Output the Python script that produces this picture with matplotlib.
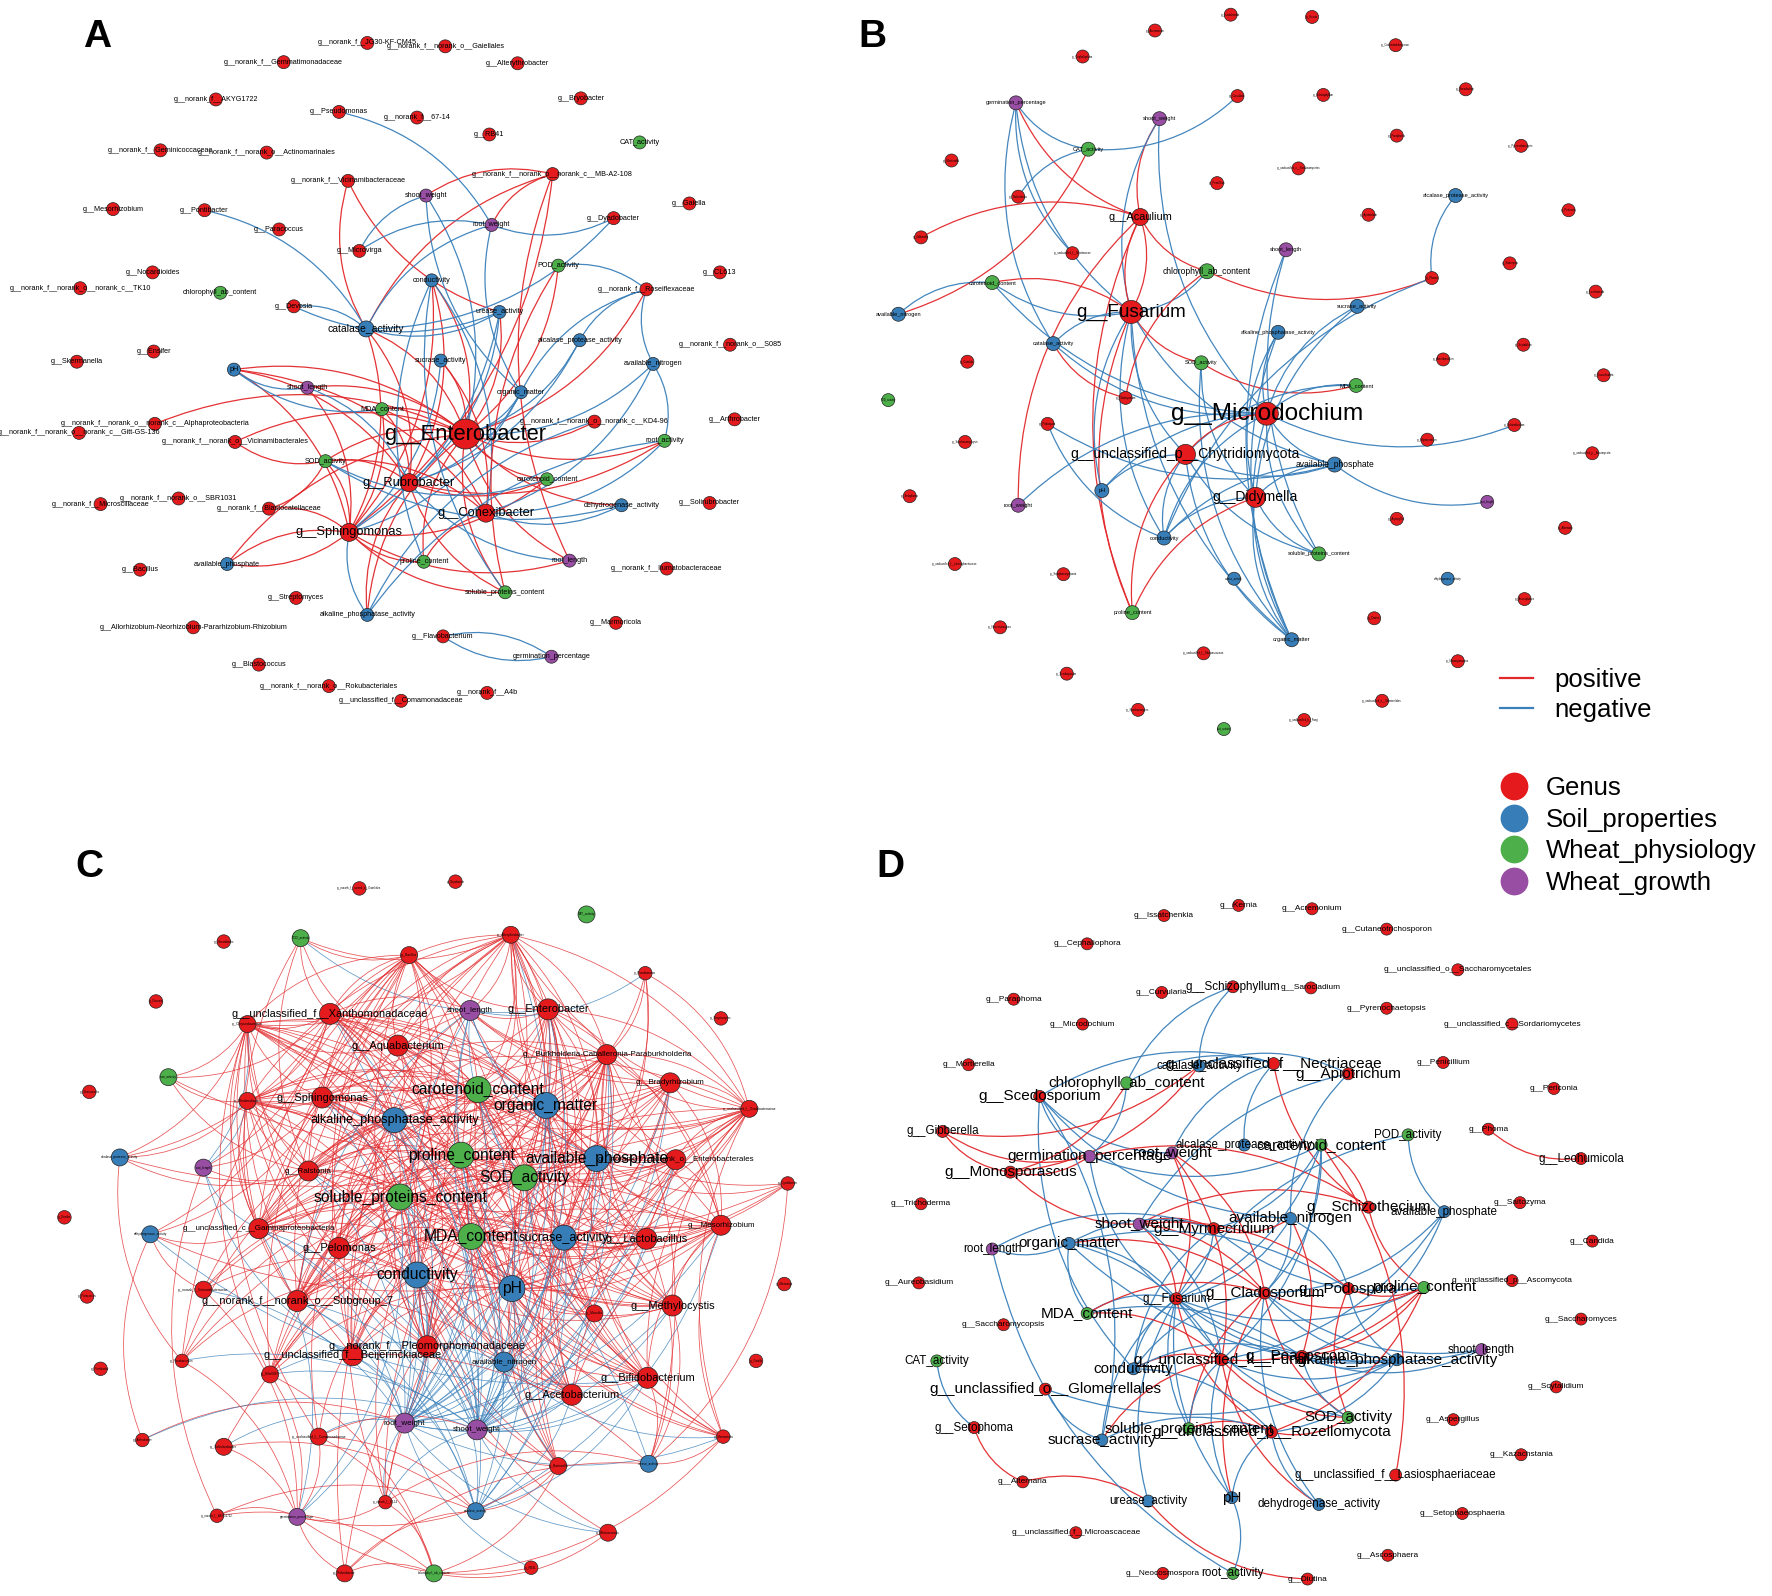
import matplotlib
matplotlib.use("Agg")
import matplotlib.pyplot as plt
from matplotlib import font_manager
from matplotlib.path import Path
from matplotlib.patches import PathPatch
from matplotlib.lines import Line2D

# ---------------- panel A : bacteria ----------------
a_names = [
    "g__norank_f__JG30-KF-CM45", "g__norank_f__norank_o__Gaiellales", "g__norank_f__Gemmatimonadaceae",
    "g__Alterythrobacter", "g__norank_f__AKYG1722", "g__Bryobacter", "g__Pseudomonas", "g__norank_f__67-14",
    "g__RB41", "CAT_activity", "g__norank_f__Geminicoccaceae", "g__norank_f__norank_o__Actinomarinales",
    "g__norank_f__norank_o__norank_c__MB-A2-108", "g__norank_f__Vicinamibacteraceae", "shoot_weight",
    "g__Gaiella", "g__Mesorhizobium", "g__Pontibacter", "root_weight", "g__Dyadobacter", "g__Paracoccus",
    "g__Microvirga", "POD_activity", "g__Nocardioides", "g__CL613", "g__norank_f__norank_o__norank_c__TK10",
    "conductivity", "g__norank_f__Roseiflexaceae", "chlorophyll_ab_content", "g__Devosia", "urease_activity",
    "catalase_activity", "alcalase_protease_activity", "g__norank_f__norank_o__S085", "g__Ensifer",
    "g__Skermanella", "sucrase_activity", "available_nitrogen", "pH", "shoot_length", "organic_matter",
    "MDA_content", "g__norank_f__norank_o__norank_c__Alphaproteobacteria",
    "g__norank_f__norank_o__norank_c__Gitt-GS-136", "g__norank_f__norank_o__Vicinamibacterales",
    "g__Enterobacter", "g__norank_f__norank_o__norank_c__KD4-96", "g__Arthrobacter", "root_activity",
    "SOD_activity", "g__Rubrobacter", "carotenoid_content", "g__norank_f__Microscillaceae",
    "g__norank_f__norank_o__SBR1031", "g__norank_f__Blastocatellaceae", "dehydrogenase_activity",
    "g__Solirubrobacter", "g__Conexibacter", "g__Sphingomonas", "available_phosphate", "g__Bacillus",
    "proline_content", "root_length", "g__norank_f__Ilumatobacteraceae", "g__Streptomyces",
    "soluble_proteins_content", "alkaline_phosphatase_activity",
    "g__Allorhizobium-Neorhizobium-Pararhizobium-Rhizobium", "g__Marmoricola", "g__Flavobacterium",
    "germination_percentage", "g__Blastococcus", "g__norank_f__norank_o__Rokubacteriales", "g__norank_f__A4b",
    "g__unclassified_f__Comamonadaceae",
]
a_x = [325, 394, 251, 458, 191, 514, 300, 369, 433, 566, 142, 236, 489, 308, 377, 610, 100, 181, 435, 543,
       247, 318, 494, 135, 637, 71, 382, 572, 195, 260, 442, 324, 513, 646, 136, 68, 390, 578, 207, 272,
       461, 338, 137, 70, 208, 412, 526, 650, 588, 288, 362, 484, 89, 158, 238, 550, 628, 430, 309, 201,
       124, 375, 504, 590, 262, 447, 325, 171, 545, 392, 488, 229, 291, 431, 355]
a_y = [38, 41, 55, 56, 88, 87, 99, 104, 119, 126, 133, 135, 154, 160, 173, 180, 185, 186, 199, 193,
       203, 222, 235, 241, 241, 255, 248, 256, 259, 271, 276, 291, 301, 305, 311, 320, 319, 322, 327, 343,
       347, 362, 375, 383, 391, 384, 373, 371, 390, 408, 427, 424, 446, 441, 450, 447, 445, 454, 471, 499,
       504, 497, 496, 503, 529, 524, 544, 555, 551, 563, 581, 588, 607, 613, 620]
a_kind = list("GGGGGGGGGWGGGGPGGGPGGGWGGGSGWGSSSGGGSSSPSWGGGGGGWWGWGGGSGGGSGWPGGWSGGGPGGGG")
a_tier = [0] * len(a_names)
a_tier[a_names.index("catalase_activity")] = 1
for _n in ["g__Rubrobacter", "g__Conexibacter", "g__Sphingomonas"]:
    a_tier[a_names.index(_n)] = 2
a_tier[a_names.index("g__Enterobacter")] = 3

a_links = [
    ("g__Enterobacter", 1, ["SOD_activity", "MDA_content", "shoot_length", "pH", "catalase_activity",
                            "conductivity", "sucrase_activity", "urease_activity", "POD_activity",
                            "carotenoid_content", "root_activity", "proline_content", "soluble_proteins_content",
                            "alkaline_phosphatase_activity", "available_phosphate",
                            "g__norank_f__norank_o__Vicinamibacterales",
                            "g__norank_f__norank_o__norank_c__Alphaproteobacteria",
                            "g__norank_f__norank_o__norank_c__KD4-96", "root_length", "dehydrogenase_activity",
                            "g__norank_f__Roseiflexaceae"]),
    ("g__Enterobacter", -1, ["alcalase_protease_activity", "available_nitrogen", "organic_matter", "shoot_weight"]),
    ("g__Sphingomonas", 1, ["SOD_activity", "MDA_content", "pH", "shoot_length", "available_phosphate",
                            "g__norank_f__Blastocatellaceae", "carotenoid_content", "root_length",
                            "soluble_proteins_content", "proline_content", "catalase_activity", "conductivity",
                            "g__norank_f__norank_o__norank_c__MB-A2-108"]),
    ("g__Sphingomonas", -1, ["urease_activity", "sucrase_activity", "organic_matter", "alkaline_phosphatase_activity"]),
    ("available_phosphate", 1, ["g__Sphingomonas"]),
    ("g__Rubrobacter", 1, ["SOD_activity", "MDA_content", "catalase_activity", "pH", "carotenoid_content",
                           "soluble_proteins_content", "root_activity", "conductivity", "alkaline_phosphatase_activity"]),
    ("g__Rubrobacter", -1, ["shoot_length", "alcalase_protease_activity", "organic_matter", "root_length",
                            "urease_activity"]),
    ("g__Conexibacter", 1, ["pH", "MDA_content", "proline_content", "sucrase_activity", "SOD_activity"]),
    ("g__Conexibacter", -1, ["available_nitrogen", "root_activity", "conductivity", "dehydrogenase_activity"]),
    ("g__norank_f__Vicinamibacteraceae", 1, ["catalase_activity", "urease_activity"]),
    ("g__norank_f__norank_o__norank_c__MB-A2-108", 1, ["shoot_weight", "root_weight", "catalase_activity",
                                                        "root_length"]),
    ("root_weight", -1, ["g__Pseudomonas", "g__Microvirga", "catalase_activity", "g__Dyadobacter", "organic_matter"]),
    ("shoot_weight", -1, ["g__Microvirga", "organic_matter"]),
    ("catalase_activity", -1, ["g__Pontibacter", "g__Devosia", "g__Dyadobacter", "urease_activity"]),
    ("g__Devosia", -1, ["urease_activity"]),
    ("g__norank_f__Roseiflexaceae", -1, ["POD_activity", "alcalase_protease_activity", "available_nitrogen",
                                         "organic_matter"]),
    ("POD_activity", 1, ["soluble_proteins_content"]),
    ("conductivity", -1, ["proline_content", "soluble_proteins_content"]),
    ("pH", -1, ["shoot_length", "MDA_content"]),
    ("SOD_activity", -1, ["dehydrogenase_activity", "carotenoid_content"]),
    ("root_activity", -1, ["available_nitrogen", "alkaline_phosphatase_activity"]),
    ("germination_percentage", -1, ["g__Flavobacterium"]),
    ("g__Flavobacterium", -1, ["germination_percentage"]),
    ("g__norank_f__norank_o__norank_c__KD4-96", -1, ["alkaline_phosphatase_activity"]),
    ("g__norank_f__norank_o__Vicinamibacterales", 1, ["SOD_activity"]),
    ("g__norank_f__Blastocatellaceae", 1, ["SOD_activity"]),
]

# ---------------- panel B : fungi ----------------
b_names = [
    "g__Issatchenkia", "g__Kernia", "g__Acremonium", "g__Cutaneotrichosporon", "g__Cephaliophora",
    "germination_percentage", "g__Curvularia", "g__Schizophyllum", "g__Sarocladium", "shoot_weight",
    "CAT_activity", "g__Paraphoma", "g__Pyrenochaetopsis", "g__Mortierella", "g__unclassified_c__Sordariomycetes",
    "g__Penicillium", "g__Trichoderma", "alcalase_protease_activity", "g__Periconia", "g__Apiotrichum",
    "g__Acaulium", "g__Gibberella", "g__unclassified_f__Nectriaceae", "shoot_length", "chlorophyll_ab_content",
    "g__Phoma", "g__Saitozyma", "g__Leohumicola", "carotenoid_content", "available_nitrogen", "g__Fusarium",
    "sucrase_activity", "alkaline_phosphatase_activity", "catalase_activity", "g__Candida", "SOD_activity",
    "g__Aureobasidium", "g__Scytalidium", "g__Kazachstania", "MDA_content", "g__Cladosporium", "POD_activity",
    "g__Microdochium", "g__Podospora", "g__Saccharomycopsis", "g__Schizothecium", "g__Myrmecridium",
    "g__unclassified_p__Ascomycota", "g__unclassified_p__Chytridiomycota", "available_phosphate", "pH",
    "g__Didymella", "g__Setophoma", "root_weight", "root_length", "g__Aspergillus", "g__Alternaria",
    "conductivity", "soluble_proteins_content", "g__unclassified_f__Lasiosphaeriaceae", "g__Setophaeosphaeria",
    "urease_activity", "dehydrogenase_activity", "g__Ascosphaera", "proline_content", "g__Neocosmospora",
    "g__Diutina", "organic_matter", "g__unclassified_f__Microascaceae", "g__Monosporascus", "g__Scedosporium",
    "g__unclassified_o__Glomerellales", "g__Saccharomyces", "g__unclassified_k__Fungi", "root_activity",
]
b_x = [1089, 1161, 1022, 1235, 958, 899, 1095, 1171, 1297, 1026, 963, 1236, 1346, 842, 1149, 1077, 901, 1288,
       1388, 1211, 1009, 815, 949, 1138, 1068, 1267, 1336, 1412, 878, 795, 1001, 1201, 1131, 932, 856, 1063,
       1277, 1348, 1419, 1200, 996, 786, 1121, 927, 854, 1340, 1263, 1409, 1049, 1181, 975, 1111, 805, 901,
       1316, 1236, 1385, 1030, 1167, 845, 941, 1092, 1281, 1349, 1002, 885, 1216, 1143, 1065, 1290, 944, 1223,
       1007, 1154, 1083]
b_y = [13, 15, 27, 40, 50, 91, 85, 84, 79, 105, 132, 120, 129, 142, 149, 162, 174, 173, 186, 190, 192, 210,
       224, 221, 240, 246, 233, 258, 250, 278, 276, 271, 294, 304, 320, 321, 318, 305, 332, 341, 352, 354, 366,
       375, 391, 376, 389, 401, 402, 411, 434, 440, 439, 447, 444, 459, 467, 476, 490, 499, 508, 512, 512, 530,
       542, 555, 547, 566, 578, 585, 596, 620, 628, 637, 645]
b_kind = list("GGGGGPGGGPWGGGGGGSGGGGGPWGGGWSGSSSGWGGGWGWGGGGGGGSSGGPPGGSWGGSSGWGGSGGGGGGW")
b_tier = [0] * len(b_names)
for _n in ["germination_percentage", "shoot_weight", "CAT_activity", "alcalase_protease_activity", "shoot_length",
           "carotenoid_content", "available_nitrogen", "sucrase_activity", "alkaline_phosphatase_activity",
           "catalase_activity", "SOD_activity", "MDA_content", "pH", "root_weight", "conductivity",
           "soluble_proteins_content", "proline_content", "organic_matter"]:
    b_tier[b_names.index(_n)] = 1
for _n in ["chlorophyll_ab_content", "available_phosphate"]:
    b_tier[b_names.index(_n)] = 2
b_tier[b_names.index("g__Acaulium")] = 3
b_tier[b_names.index("g__unclassified_p__Chytridiomycota")] = 4
b_tier[b_names.index("g__Didymella")] = 4
b_tier[b_names.index("g__Fusarium")] = 5
b_tier[b_names.index("g__Microdochium")] = 6

b_links = [
    ("germination_percentage", -1, ["catalase_activity", "g__Fusarium", "g__unclassified_f__Nectriaceae",
                                    "CAT_activity"]),
    ("germination_percentage", 1, ["g__Acaulium"]),
    ("CAT_activity", -1, ["g__Trichoderma", "g__Curvularia"]),
    ("available_nitrogen", 1, ["CAT_activity"]),
    ("shoot_weight", 1, ["g__Acaulium"]),
    ("shoot_weight", -1, ["g__Fusarium", "g__Microdochium"]),
    ("g__Acaulium", 1, ["g__Gibberella", "chlorophyll_ab_content", "g__Fusarium", "proline_content", "root_weight"]),
    ("g__Fusarium", 1, ["g__Acaulium", "SOD_activity", "proline_content", "carotenoid_content"]),
    ("carotenoid_content", -1, ["available_nitrogen", "g__Fusarium", "g__Microdochium"]),
    ("g__Fusarium", -1, ["catalase_activity", "chlorophyll_ab_content", "available_phosphate", "pH", "conductivity",
                         "organic_matter", "g__unclassified_p__Chytridiomycota"]),
    ("chlorophyll_ab_content", 1, ["g__Phoma", "g__Cladosporium"]),
    ("alcalase_protease_activity", -1, ["g__Phoma"]),
    ("g__Phoma", -1, ["conductivity"]),
    ("catalase_activity", 1, ["g__Cladosporium"]),
    ("catalase_activity", -1, ["g__Microdochium"]),
    ("SOD_activity", 1, ["MDA_content"]),
    ("SOD_activity", -1, ["g__Didymella", "organic_matter"]),
    ("alkaline_phosphatase_activity", -1, ["g__Didymella", "organic_matter", "g__Microdochium"]),
    ("sucrase_activity", -1, ["g__Didymella", "g__Microdochium"]),
    ("shoot_length", -1, ["organic_matter", "soluble_proteins_content"]),
    ("MDA_content", -1, ["g__Microdochium", "g__unclassified_p__Chytridiomycota"]),
    ("g__Microdochium", -1, ["g__Schizothecium", "root_weight", "available_phosphate", "conductivity",
                             "soluble_proteins_content", "organic_matter", "pH"]),
    ("g__Microdochium", 1, ["g__unclassified_p__Chytridiomycota"]),
    ("g__Podospora", -1, ["available_phosphate", "conductivity"]),
    ("g__unclassified_p__Chytridiomycota", -1, ["pH", "available_phosphate", "conductivity", "organic_matter",
                                                "soluble_proteins_content"]),
    ("g__unclassified_p__Chytridiomycota", 1, ["proline_content"]),
    ("available_phosphate", -1, ["root_length", "g__Didymella", "conductivity"]),
    ("g__Didymella", 1, ["proline_content"]),
    ("g__Didymella", -1, ["conductivity", "soluble_proteins_content", "organic_matter"]),
]

# ---------------- panel C : bacteria, genus nodes + factor nodes ----------------
c_genus = [
    "g__norank_f__norank_o__Gaiellales", "g__Bryobacter", "g__Nocardioides", "g__Alterythrobacter", "g__Bacillus",
    "g__Pseudomonas", "g__Devosia", "g__Streptomyces", "g__unclassified_f__Xanthomonadaceae", "g__Chryseobacterium",
    "g__Enterobacter", "g__Aquabacterium", "g__Burkholderia-Caballeronia-Paraburkholderia", "g__Bradyrhizobium",
    "g__Skermanella", "g__Rhodanobacter", "g__Sphingomonas", "g__unclassified_f__Oxalobacteraceae",
    "g__norank_f__norank_o__Enterobacterales", "g__Dyadobacter",
    "g__Ralstonia", "g__Ensifer", "g__unclassified_c__Gammaproteobacteria", "g__Lactobacillus", "g__Mesorhizobium",
    "g__Pelomonas", "g__norank_f__Vicinamibacteraceae", "g__Paracoccus", "g__norank_f__norank_o__Subgroup_7",
    "g__Massilia",
    "g__Methylocystis", "g__Microvirga", "g__norank_f__Pleomorphomonadaceae", "g__unclassified_f__Beijerinckiaceae",
    "g__Flavobacterium", "g__Pontibacter", "g__Ellin6067", "g__Bifidobacterium", "g__Acetobacterium", "g__Gaiella",
    "g__unclassified_f__Comamonadaceae", "g__Arthrobacter", "g__Solirubrobacter", "g__Marmoricola", "g__Bartonella",
    "g__norank_f__67-14", "g__norank_f__AKYG1722", "g__Blastococcus", "g__RB41", "g__Rubrobacter",
]
c_genus_x = [318, 403, 198, 452, 362, 571, 138, 638, 292, 219,
             485, 352, 537, 593, 79, 219, 285, 663, 598, 697,
             273, 57, 229, 572, 638, 300, 180, 77, 263, 526,
             595, 694, 378, 312, 161, 89, 239, 573, 506, 669,
             282, 126, 198, 640, 494, 341, 192, 538, 470, 305]
c_genus_y = [786, 780, 833, 827, 845, 861, 886, 901, 897, 906,
             893, 925, 933, 958, 966, 974, 971, 981, 1026, 1047,
             1036, 1077, 1087, 1096, 1084, 1104, 1141, 1147, 1151, 1162,
             1155, 1136, 1191, 1199, 1204, 1211, 1216, 1219, 1234, 1204,
             1271, 1274, 1280, 1271, 1297, 1329, 1341, 1356, 1387, 1392]
c_genus_tier = [0, 0, 0, 1, 1, 0, 0, 0, 3, 1,
                3, 3, 2, 2, 0, 1, 3, 1, 2, 0,
                2, 0, 2, 3, 2, 3, 1, 0, 3, 1,
                3, 0, 3, 3, 0, 0, 1, 3, 3, 0,
                1, 0, 1, 0, 1, 0, 0, 1, 0, 1]

c_factor = ["carotenoid_content", "organic_matter", "alkaline_phosphatase_activity", "proline_content",
            "available_phosphate", "SOD_activity", "soluble_proteins_content", "MDA_content", "sucrase_activity",
            "conductivity", "pH", "available_nitrogen", "root_weight", "shoot_weight", "shoot_length",
            "POD_activity", "CAT_activity", "root_activity", "alcalase_protease_activity", "root_length",
            "dehydrogenase_activity", "urease_activity", "catalase_activity", "germination_percentage",
            "chlorophyll_ab_content"]
c_factor_x = [423, 483, 349, 408, 528, 464, 354, 417, 499, 369, 453, 446, 358, 422, 416,
              266, 519, 149, 106, 180, 133, 574, 421, 263, 384]
c_factor_y = [964, 978, 991, 1022, 1025, 1042, 1059, 1094, 1095, 1128, 1140, 1205, 1259, 1265, 894,
              830, 809, 953, 1024, 1033, 1092, 1295, 1337, 1342, 1392]
c_factor_kind = list("WSSWSWWWSSSSPPPWWWSPSSSPW")
c_factor_tier = [4, 4, 5, 4, 4, 4, 4, 4, 5, 4, 4, 2, 2, 2, 2,
                 1, 1, 1, 1, 1, 1, 1, 1, 1, 1]

# one row per hub node: +/- = positive/negative correlation with c_genus[i]
c_rows = [
    ("carotenoid_content",            "...++...++ ++++.++++. +.++++..++ +.++..+++. ....+....+"),
    ("organic_matter",                "...+.+..++ ++++.+.+++ +.++++..++ +.++..+++. ...+++...."),
    ("alkaline_phosphatase_activity", "....+...++ +++..++.+. +.+.+.+.+. +.+++..++. +....+...."),
    ("proline_content",               "...++...++ ++++.++++. +.++.+..+. +.+...+++. ...+.+...."),
    ("available_phosphate",           "...+.+..+. +++..+++++ +.+++.+.++ +.+.+.+++. ..+.++...+"),
    ("SOD_activity",                  "...++...++ ++++..+++. +.++.+..++ +.++..+++. ...++....."),
    ("soluble_proteins_content",      "....+...++ +.++.++.++ +.+.+.+.+. +.+++..++. ....+....."),
    ("MDA_content",                   "...+....++ ++++.+++.+ +.++++..++ +.++..+++. ...+......"),
    ("sucrase_activity",              "...+.+..+. ++++.+.+++ ..++++..++ +.++...++. ...++....."),
    ("conductivity",                  "....+...++ +++..++.+. +.+.+.+.+. +.+++..++. +...+..+.."),
    ("pH",                            "...++...++ +.++.++++. +.++++..++ +.++..+++. ...+++...."),
    ("available_nitrogen",            "........+. +..+..+.+. ..+..+..+. ..+...-++. ...-......"),
    ("root_weight",                   "........-. -+.-..-.-. -.-.-.-.-- -.--...--. -+--.-.--."),
    ("shoot_weight",                  "...-....-. -.--..-.-. -.--.-..-- -.-.-.---. +-..+-.-.."),
    ("shoot_length",                  "...+.-..+. +.++..+... ..+..+..-. ..-....... ....-....."),
    ("catalase_activity",             ".......... ..-....... ..-.-...-. ..--...--. +.+.+.+..+"),
    ("germination_percentage",        ".......... .......... ..-...+... ....+.+... +.+.+++.++"),
    ("chlorophyll_ab_content",        ".......... .......... .......... ......+... +..+++++.+"),
    ("POD_activity",                  "...++...+. -+........ +.+....... .......... .........."),
    ("root_activity",                 "........++ .....+.+.. +......... .......... .........."),
    ("alcalase_protease_activity",    "........++ ...+.+.... +......... ....+..... .........."),
    ("root_length",                   "........+- .....-+... +.-....... ...-...... ......+..."),
    ("dehydrogenase_activity",        "........+. ......+... ..++..+... .......-.. .+........"),
    ("urease_activity",               ".......... ..+...-..+ ...+...... +..+...+.. ...+.+...+"),
    ("g__Alterythrobacter",           "........+. +++..+++.. +.++.+..+. +.++...... .........."),
    ("g__Bacillus",                   "........++ ++.+..+... +.+..+..+. ..+++.+... .........."),
    ("g__Chryseobacterium",           "...+....+. .+.+..++.. +.+..+..+. ..++..+... +........."),
    ("g__Rhodanobacter",              "....+...+. +.+...+... +.+.+...+. +.+....... .........."),
    ("g__Burkholderia-Caballeronia-Paraburkholderia", "...+.+.... +.....+++. ..++....+. +.+....++. .........."),
    ("g__unclassified_f__Oxalobacteraceae", "...+.+.... +.++..+.+. ...+....+. +......++. ...+......"),
    ("g__Mesorhizobium",              "........+. +.++....+. ..+.....+. +.+....++. ...+......"),
]
c_factor_links = [
    ("root_weight", -1, ["carotenoid_content", "organic_matter", "alkaline_phosphatase_activity", "proline_content",
                         "available_phosphate", "SOD_activity", "soluble_proteins_content", "MDA_content",
                         "sucrase_activity", "conductivity", "pH", "available_nitrogen"]),
    ("shoot_weight", -1, ["carotenoid_content", "organic_matter", "alkaline_phosphatase_activity", "proline_content",
                          "available_phosphate", "SOD_activity", "soluble_proteins_content", "MDA_content",
                          "sucrase_activity", "conductivity", "pH", "available_nitrogen"]),
    ("shoot_length", -1, ["organic_matter", "SOD_activity", "available_phosphate", "pH"]),
    ("catalase_activity", -1, ["conductivity", "pH", "MDA_content", "sucrase_activity"]),
    ("germination_percentage", -1, ["conductivity", "soluble_proteins_content"]),
]

# ---------------- panel D : fungi ----------------
d_names = [
    "g__Issatchenkia", "g__Kernia", "g__Acremonium", "g__Cutaneotrichosporon", "g__Cephaliophora",
    "g__unclassified_o__Saccharomycetales", "g__Curvularia", "g__Schizophyllum", "g__Sarocladium", "g__Paraphoma",
    "g__Pyrenochaetopsis", "g__Microdochium", "g__unclassified_c__Sordariomycetes", "g__Mortierella",
    "catalase_activity", "g__unclassified_f__Nectriaceae", "g__Penicillium", "g__Apiotrichum",
    "chlorophyll_ab_content", "g__Periconia", "g__Scedosporium", "g__Gibberella", "g__Phoma", "POD_activity",
    "alcalase_protease_activity", "carotenoid_content", "germination_percentage", "root_weight", "g__Monosporascus",
    "g__Leohumicola", "g__Trichoderma", "g__Schizothecium", "available_phosphate", "g__Saitozyma",
    "available_nitrogen", "shoot_weight", "g__Myrmecridium", "g__Candida", "root_length", "organic_matter",
    "g__Aureobasidium", "g__Fusarium", "g__Cladosporium", "g__Podospora", "proline_content",
    "g__unclassified_p__Ascomycota", "MDA_content", "g__Saccharomycopsis", "g__Saccharomyces", "shoot_length",
    "g__unclassified_k__Fungi", "g__Peacoscoma", "alkaline_phosphatase_activity", "conductivity", "CAT_activity",
    "g__unclassified_o__Glomerellales", "g__Scytalidium", "g__Setophoma", "SOD_activity", "g__Aspergillus",
    "soluble_proteins_content", "g__unclassified_p__Rozellomycota", "sucrase_activity", "g__Kazachstania",
    "g__unclassified_f__Lasiosphaeriaceae", "g__Alternaria", "urease_activity", "pH", "dehydrogenase_activity",
    "g__Setophaeosphaeria", "g__unclassified_f__Microascaceae", "g__Ascosphaera", "g__Neocosmospora",
    "root_activity", "g__Diutina",
]
d_x = [1030, 1096, 1161, 1227, 962, 1290, 1028, 1091, 1160, 897, 1227, 958, 1338, 857, 1061, 1127, 1277, 1193,
       997, 1375, 920, 834, 1317, 1246, 1101, 1169, 964, 1037, 894, 1399, 815, 1211, 1278, 1345, 1142, 1008,
       1074, 1409, 878, 946, 813, 1041, 1119, 1193, 1260, 1338, 962, 888, 1399, 1311, 1081, 1152, 1236, 1003,
       829, 925, 1377, 862, 1193, 1286, 1052, 1125, 975, 1346, 1235, 905, 1016, 1090, 1167, 1294, 952, 1228,
       1029, 1091, 1157]
d_y = [810, 801, 804, 822, 835, 858, 878, 873, 874, 884, 892, 906, 906, 942, 943, 941, 940, 950, 958, 963, 970,
       1001, 999, 1004, 1013, 1013, 1023, 1020, 1037, 1025, 1065, 1068, 1072, 1064, 1078, 1083, 1087, 1098, 1105,
       1100, 1135, 1149, 1144, 1140, 1139, 1133, 1162, 1172, 1167, 1194, 1203, 1200, 1203, 1211, 1204, 1229, 1227,
       1263, 1254, 1256, 1264, 1267, 1274, 1287, 1305, 1311, 1328, 1325, 1331, 1339, 1356, 1376, 1392, 1392, 1397]
d_kind = list("GGGGGGGGGGGGGGSGGGWGGGGWSWPPGGGGSGSPGGPSGGGGWGWGGPGGSSWGGGWGWGSGGGSSSGGGGWG")
d_tier = [0] * len(d_names)
for _n in ["g__Schizophyllum", "catalase_activity", "g__Gibberella", "POD_activity", "alcalase_protease_activity",
           "g__Leohumicola", "available_phosphate", "root_length", "g__Fusarium", "shoot_length", "CAT_activity",
           "g__Setophoma", "g__unclassified_f__Lasiosphaeriaceae", "urease_activity", "dehydrogenase_activity",
           "root_activity"]:
    d_tier[d_names.index(_n)] = 1
for _n in ["g__unclassified_f__Nectriaceae", "g__Apiotrichum", "chlorophyll_ab_content", "g__Scedosporium",
           "carotenoid_content", "germination_percentage", "root_weight", "g__Monosporascus", "g__Schizothecium",
           "available_nitrogen", "shoot_weight", "g__Myrmecridium", "organic_matter", "g__Cladosporium",
           "g__Podospora", "proline_content", "MDA_content", "g__unclassified_k__Fungi", "g__Peacoscoma",
           "alkaline_phosphatase_activity", "conductivity", "g__unclassified_o__Glomerellales", "SOD_activity",
           "soluble_proteins_content", "g__unclassified_p__Rozellomycota", "sucrase_activity", "pH"]:
    d_tier[d_names.index(_n)] = 2

d_links = [
    ("g__Schizophyllum", -1, ["chlorophyll_ab_content", "catalase_activity"]),
    ("g__unclassified_f__Nectriaceae", -1, ["catalase_activity", "chlorophyll_ab_content", "g__Scedosporium",
                                            "alcalase_protease_activity", "root_weight"]),
    ("g__unclassified_f__Nectriaceae", 1, ["g__Schizothecium"]),
    ("g__Apiotrichum", -1, ["catalase_activity", "available_nitrogen", "shoot_weight"]),
    ("g__Scedosporium", -1, ["germination_percentage", "root_weight", "available_nitrogen", "conductivity"]),
    ("g__Gibberella", 1, ["germination_percentage", "catalase_activity", "g__Monosporascus"]),
    ("g__Monosporascus", 1, ["catalase_activity", "chlorophyll_ab_content", "shoot_weight", "germination_percentage"]),
    ("germination_percentage", -1, ["chlorophyll_ab_content", "g__Fusarium", "carotenoid_content"]),
    ("g__Phoma", 1, ["g__Leohumicola"]),
    ("POD_activity", -1, ["available_phosphate", "g__Fusarium"]),
    ("g__Schizothecium", 1, ["carotenoid_content", "germination_percentage", "proline_content", "shoot_weight"]),
    ("g__Fusarium", -1, ["organic_matter", "MDA_content", "g__Myrmecridium", "conductivity", "sucrase_activity",
                         "soluble_proteins_content", "pH", "available_nitrogen", "alkaline_phosphatase_activity",
                         "proline_content", "carotenoid_content", "SOD_activity", "shoot_length", "urease_activity"]),
    ("g__Fusarium", 1, ["shoot_weight", "root_weight", "g__unclassified_p__Rozellomycota"]),
    ("g__Cladosporium", 1, ["organic_matter", "MDA_content", "proline_content", "soluble_proteins_content",
                            "SOD_activity", "pH", "root_weight", "shoot_weight"]),
    ("g__Cladosporium", -1, ["carotenoid_content", "available_nitrogen", "alkaline_phosphatase_activity",
                             "conductivity", "available_phosphate", "shoot_length", "dehydrogenase_activity"]),
    ("g__unclassified_k__Fungi", 1, ["conductivity", "sucrase_activity", "proline_content", "root_weight",
                                     "MDA_content", "SOD_activity", "dehydrogenase_activity"]),
    ("g__unclassified_k__Fungi", -1, ["alkaline_phosphatase_activity", "shoot_weight", "pH", "carotenoid_content",
                                      "soluble_proteins_content", "organic_matter", "available_phosphate"]),
    ("g__Myrmecridium", 1, ["shoot_weight", "available_nitrogen"]),
    ("g__Myrmecridium", -1, ["organic_matter", "carotenoid_content", "proline_content", "conductivity", "root_length"]),
    ("g__Podospora", 1, ["proline_content", "shoot_weight", "SOD_activity"]),
    ("g__Podospora", -1, ["organic_matter", "alkaline_phosphatase_activity", "available_nitrogen"]),
    ("g__Peacoscoma", 1, ["proline_content", "available_nitrogen"]),
    ("g__Peacoscoma", -1, ["alkaline_phosphatase_activity", "conductivity", "SOD_activity", "shoot_length",
                           "MDA_content", "available_phosphate"]),
    ("g__unclassified_p__Rozellomycota", 1, ["SOD_activity", "soluble_proteins_content", "proline_content"]),
    ("g__unclassified_p__Rozellomycota", -1, ["sucrase_activity", "pH", "alkaline_phosphatase_activity",
                                              "conductivity", "dehydrogenase_activity"]),
    ("g__unclassified_f__Lasiosphaeriaceae", 1, ["carotenoid_content"]),
    ("g__unclassified_o__Glomerellales", -1, ["alkaline_phosphatase_activity", "sucrase_activity"]),
    ("CAT_activity", -1, ["g__Setophoma"]),
    ("g__Setophoma", 1, ["g__Alternaria"]),
    ("urease_activity", 1, ["g__Alternaria", "g__Diutina"]),
    ("root_length", -1, ["organic_matter", "root_activity"]),
    ("root_activity", -1, ["pH"]),
    ("organic_matter", -1, ["alkaline_phosphatase_activity", "MDA_content"]),
    ("sucrase_activity", -1, ["g__Scedosporium"]),
]

# ---------------- styles ----------------
NODE_COLORS = {"G": "#E41A1C", "S": "#377EB8", "W": "#4DAF4A", "P": "#984EA3"}
EDGE_COLORS = {1: "#E2282B", -1: "#3A80BA"}
NARROW = ["Liberation Sans Narrow", "Liberation Sans", "DejaVu Sans"]
try:
    font_manager.findfont("Liberation Sans Narrow", fallback_to_default=False)
    LABEL_SCALE = 1.0
except ValueError:
    LABEL_SCALE = 0.88     # regular width font: shrink so label widths stay close
# tier -> (node diameter in px, label size in pt)
A_STYLE = {0: (13, 5.9), 1: (16, 8.5), 2: (18, 10.5), 3: (30, 18)}
B_STYLE = {0: (13, 2.2), 1: (14, 4.6), 2: (15, 7), 3: (17, 9), 4: (20, 11.5), 5: (23, 15.5), 6: (23, 20)}
C_STYLE = {0: (13.5, 2.3), 1: (17, 2.6), 2: (20, 6.5), 3: (21, 9), 4: (26, 12.8), 5: (25, 10.3)}
D_STYLE = {0: (12, 6.8), 1: (12, 9.5), 2: (12, 12.5)}

W_REF, H_REF = 1568, 1412   # reference layout units


def draw_edge(ax, p0, p1, color, lw, alpha, rad=0.22):
    (x0, y0), (x1, y1) = p0, p1
    cx = (x0 + x1) / 2 - rad * (y1 - y0)
    cy = (y0 + y1) / 2 + rad * (x1 - x0)
    path = Path([(x0, y0), (cx, cy), (x1, y1)], [Path.MOVETO, Path.CURVE3, Path.CURVE3])
    ax.add_patch(PathPatch(path, fc="none", ec=color, lw=lw, alpha=alpha, zorder=1))


def draw_panel(ax, names, xs, ys, kinds, tiers, links, style, lw, alpha):
    pos = {n: (x, y) for n, x, y in zip(names, xs, ys)}
    for hub, sign, others in links:
        for other in others:
            if other != hub:
                draw_edge(ax, pos[hub], pos[other], EDGE_COLORS[sign], lw, alpha)
    sizes = [(style[t][0] * 0.72) ** 2 for t in tiers]
    ax.scatter(xs, ys, s=sizes, c=[NODE_COLORS[k] for k in kinds], edgecolors="#222222",
               linewidths=0.5, zorder=3)
    for n, x, y, t in zip(names, xs, ys, tiers):
        ax.text(x, y, n, fontsize=style[t][1] * LABEL_SCALE, ha="center", va="center",
                family=NARROW, zorder=4)


def make_axes(fig, x0, y0, x1, y1):
    ax = fig.add_axes([x0 / W_REF, 1 - y1 / H_REF, (x1 - x0) / W_REF, (y1 - y0) / H_REF])
    ax.set_xlim(x0, x1)
    ax.set_ylim(y1, y0)
    ax.axis("off")
    return ax


fig = plt.figure(figsize=(17.72, 15.96), dpi=100)

axA = make_axes(fig, 0, 0, 740, 706)
draw_panel(axA, a_names, a_x, a_y, a_kind, a_tier, a_links, A_STYLE, 0.9, 0.95)

axB = make_axes(fig, 740, 0, W_REF, 706)
draw_panel(axB, b_names, b_x, b_y, b_kind, b_tier, b_links, B_STYLE, 0.9, 0.95)

# panel C: expand the per-hub rows into edge lists
c_links = []
for hub, row in c_rows:
    row = row.replace(" ", "")
    c_links.append((hub, 1, [c_genus[i] for i, ch in enumerate(row) if ch == "+"]))
    c_links.append((hub, -1, [c_genus[i] for i, ch in enumerate(row) if ch == "-"]))
c_links += c_factor_links
axC = make_axes(fig, 0, 706, 740, H_REF)
draw_panel(axC, c_genus + c_factor, c_genus_x + c_factor_x, c_genus_y + c_factor_y,
           ["G"] * len(c_genus) + c_factor_kind, c_genus_tier + c_factor_tier, c_links, C_STYLE, 0.55, 0.8)

axD = make_axes(fig, 740, 706, W_REF, H_REF)
draw_panel(axD, d_names, d_x, d_y, d_kind, d_tier, d_links, D_STYLE, 0.9, 0.95)

for ax, letter, (lx, ly) in [(axA, "A", (86, 33)), (axB, "B", (772, 33)),
                              (axC, "C", (79, 767)), (axD, "D", (788, 767))]:
    ax.text(lx, ly, letter, fontsize=28, fontweight="bold", ha="center", va="center",
            family=["Liberation Sans", "DejaVu Sans"])

edge_handles = [Line2D([], [], color=EDGE_COLORS[1], lw=1.6), Line2D([], [], color=EDGE_COLORS[-1], lw=1.6)]
fig.legend(edge_handles, ["positive", "negative"], loc="upper left",
           bbox_to_anchor=(1500 / 1772, 1 - 668 / 1596), frameon=False, handlelength=1.3,
           handletextpad=0.8, labelspacing=0.25, borderpad=0, borderaxespad=0,
           prop={"family": "Liberation Sans", "size": 18.5})
node_labels = ["Genus", "Soil_properties", "Wheat_physiology", "Wheat_growth"]
node_handles = [Line2D([], [], ls="none", marker="o", markersize=20, markerfacecolor=NODE_COLORS[k],
                       markeredgecolor="none") for k in "GSWP"]
fig.legend(node_handles, node_labels, loc="upper left",
           bbox_to_anchor=(1497 / 1772, 1 - 776 / 1596), frameon=False, handlelength=1.3,
           handletextpad=0.6, labelspacing=0.3, borderpad=0, borderaxespad=0,
           prop={"family": "Liberation Sans", "size": 18.5})

fig.savefig("out.png", dpi=100, facecolor="white")
